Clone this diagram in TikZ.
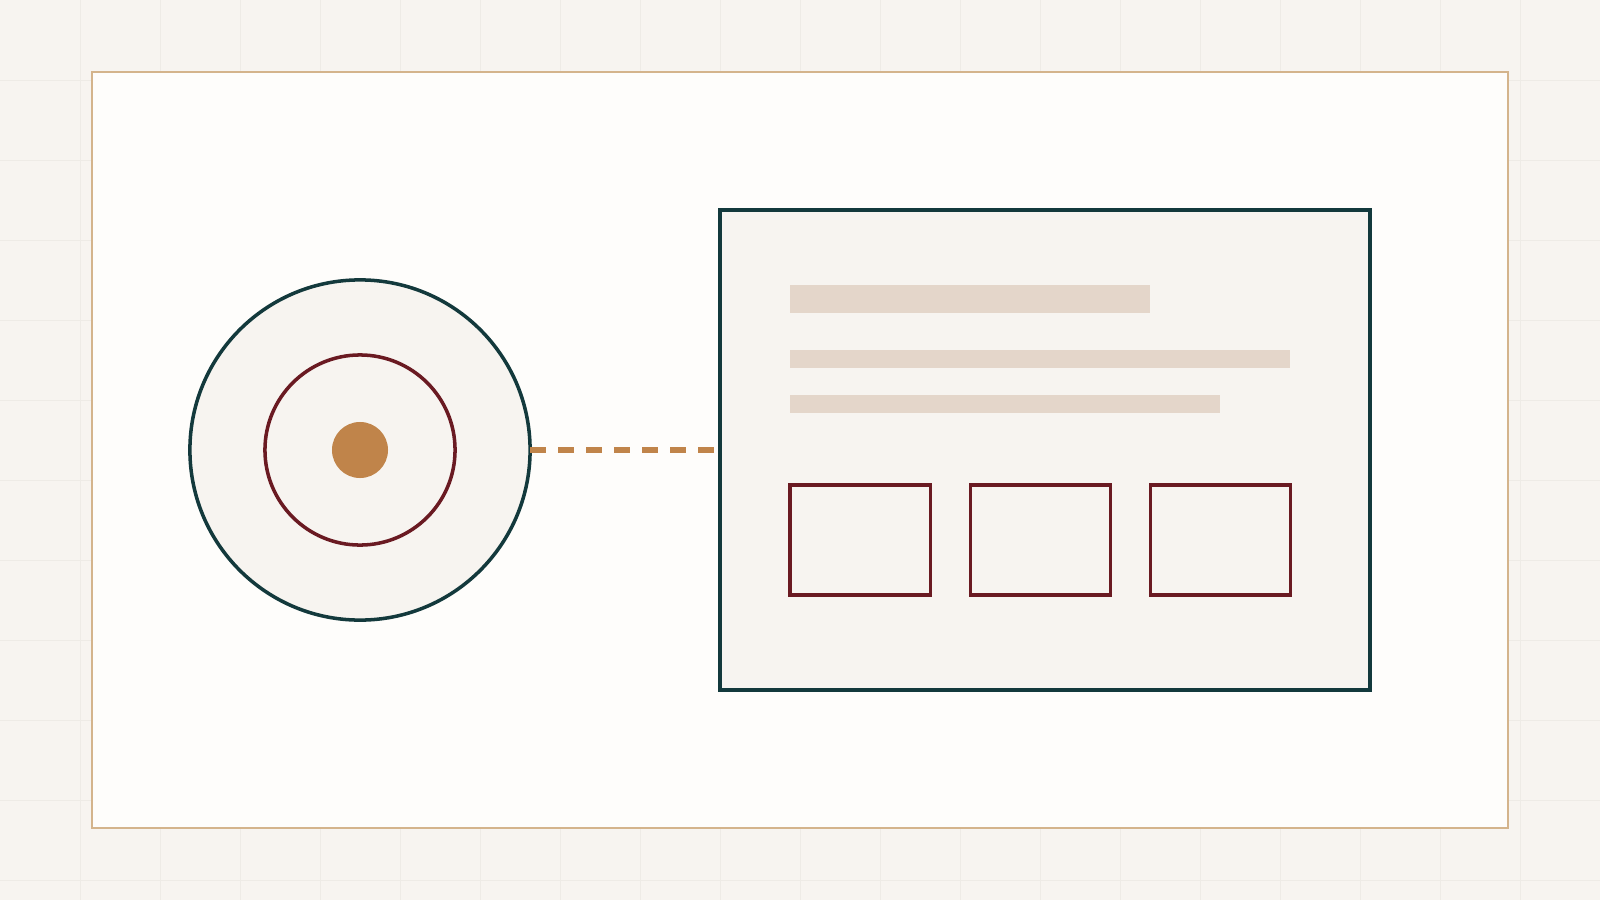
\documentclass[tikz,border=0pt]{standalone}
\usetikzlibrary{positioning}
\definecolor{paper}{HTML}{F7F4F0}
\definecolor{sheet}{HTML}{FEFDFB}
\definecolor{gridc}{HTML}{EEEBE6}
\definecolor{tan}{HTML}{D4B48C}
\definecolor{teal}{HTML}{13393C}
\definecolor{maroon}{HTML}{6A1A22}
\definecolor{copper}{HTML}{C0844A}
\definecolor{sand}{HTML}{E4D6CA}
\tikzset{
  ring/.style={circle, inner sep=0pt, outer sep=0pt, line width=1pt},
  panel/.style={draw=teal, fill=paper, line width=1pt, inner sep=0pt, outer sep=0pt,
    minimum width=6.5cm, minimum height=4.8cm},
  bar/.style={fill=sand, inner sep=0pt, outer sep=0pt, anchor=north west, minimum height=0.18cm},
  tile/.style={draw=maroon, fill=paper, line width=0.9pt, inner sep=0pt, outer sep=0pt,
    anchor=north west, minimum width=1.4cm, minimum height=1.1cm},
  link/.style={copper, line width=1.5pt, dash pattern=on 0.16cm off 0.12cm}
}
\begin{document}
\begin{tikzpicture}[x=0.01cm,y=-0.01cm]
    \useasboundingbox (0,0) rectangle (1600,900);
    \fill[paper] (0,0) rectangle (1600,900);
    \foreach \x in {80,160,...,1520} \draw[gridc, line width=0.28pt] (\x,0) -- (\x,900);
    \foreach \y in {80,160,...,880} \draw[gridc, line width=0.28pt] (0,\y) -- (1600,\y);
    \draw[tan, fill=sheet, line width=0.55pt] (92,72) rectangle (1508,828);
    % target on the left
    \node[ring, draw=teal, fill=paper, minimum size=3.4cm] (outer) at (360,450) {};
    \node[ring, draw=maroon, minimum size=1.9cm] (inner) at (outer) {};
    \node[ring, fill=copper, minimum size=0.56cm] (hub) at (outer) {};
    % card on the right
    \node[panel] (card) at (1045,450) {};
    \node[bar, minimum width=3.6cm, minimum height=0.28cm] (title) at (790,285) {};
    \node[bar, minimum width=5cm] (lineA) at (790,350) {};
    \node[bar, minimum width=4.3cm] (lineB) at (790,395) {};
    \node[tile] (tileA) at (790,485) {};
    \node[tile, right=0.4cm of tileA] (tileB) {};
    \node[tile, right=0.4cm of tileB] (tileC) {};
    \draw[link] (outer.east) -- (card.west);
\end{tikzpicture}
\end{document}
